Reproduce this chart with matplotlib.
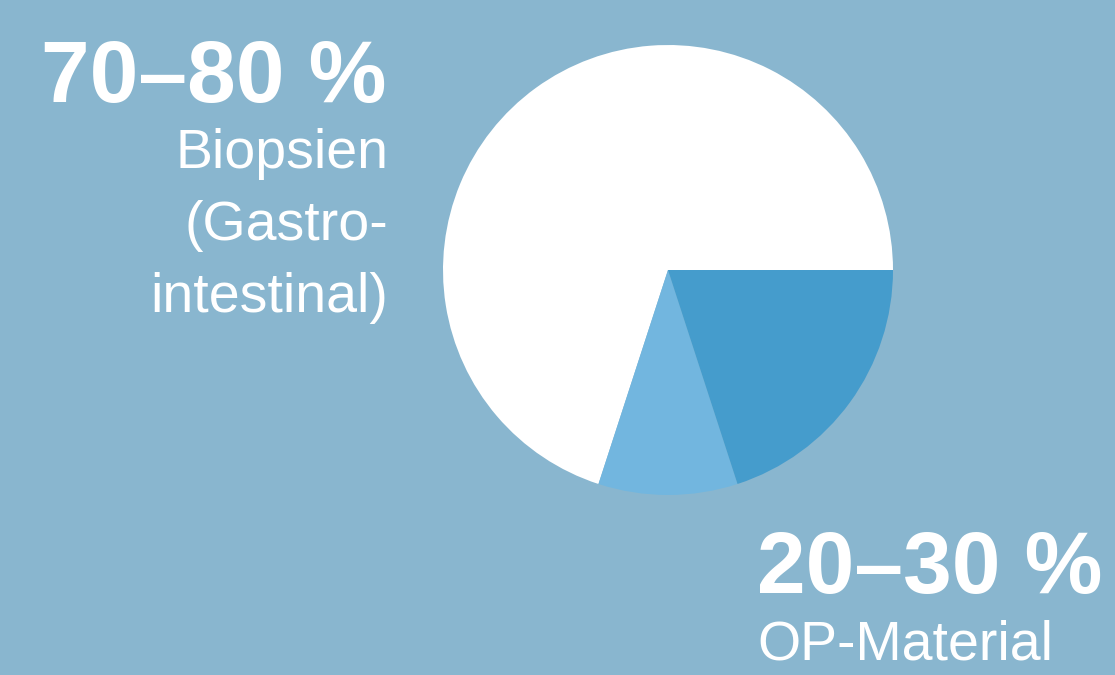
import matplotlib
matplotlib.use("Agg")
import matplotlib.pyplot as plt

BG = "#89b6cf"
WHITE, LIGHT, DARK = "#ffffff", "#72b6df", "#459ccc"
plt.rcParams["font.family"] = ["Liberation Sans", "DejaVu Sans"]

# pie shares (approx. from the picture)
shares = [70, 10, 20]
colors = [WHITE, LIGHT, DARK]
big_labels = ["70–80 %", "20–30 %"]
small_labels = ["Biopsien\n(Gastro-\nintestinal)", "OP-Material"]

W, H = 1115, 675
fig = plt.figure(figsize=(W / 100, H / 100), dpi=100, facecolor=BG)

# pie: centre ~(668, 270) px, radius ~225 px
cx, cy, r = 668, 270, 225
ax = fig.add_axes([(cx - r) / W, (H - cy - r) / H, 2 * r / W, 2 * r / H])
ax.pie(shares, colors=colors, startangle=0, counterclock=True, radius=1,
       wedgeprops=dict(linewidth=0))
ax.set_xlim(-1, 1); ax.set_ylim(-1, 1)
ax.set_aspect("equal")
ax.axis("off")

# left labels (right-aligned)
fig.text(386 / W, 1 - 102 / H, big_labels[0], ha="right", va="baseline",
         fontsize=63, fontweight="bold", color="white")
fig.text(388 / W, 1 - 312 / H, small_labels[0], ha="right", va="baseline",
         fontsize=40, color="white", linespacing=1.5, multialignment="right")

# bottom-right labels (left-aligned)
fig.text(757 / W, 1 - 593 / H, big_labels[1], ha="left", va="baseline",
         fontsize=63, fontweight="bold", color="white")
fig.text(757 / W, 1 - 660 / H, small_labels[1], ha="left", va="baseline",
         fontsize=40, color="white")

fig.savefig("out.png", dpi=100, facecolor=BG)
